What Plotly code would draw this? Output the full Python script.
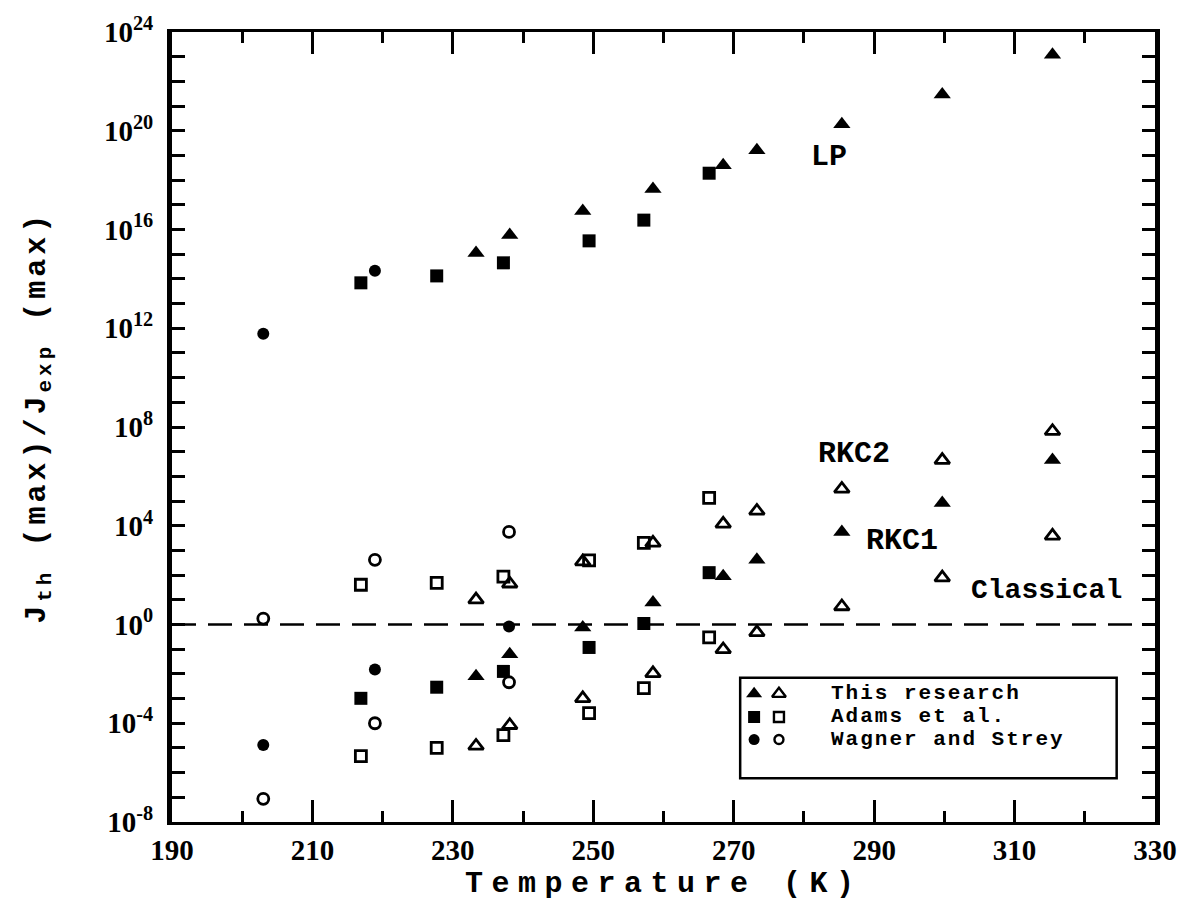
import plotly.graph_objects as go

# ---- data (exponents of 10) ----
T_this = [233.3, 238.1, 248.5, 258.5, 268.5, 273.3, 285.4, 299.7, 315.4]
this_LP = [15.05, 15.78, 16.75, 17.64, 18.60, 19.21, 20.26, 21.47, 23.08]
this_RKC2 = [1.01, 1.65, 2.55, 3.31, 4.08, 4.60, 5.49, 6.66, 7.83]
this_RKC1 = [-2.10, -1.21, -0.12, 0.89, 1.95, 2.62, 3.75, 4.92, 6.66]
this_CL = [-4.92, -4.08, -2.99, -1.98, -1.01, -0.32, 0.73, 1.90, 3.59]

T_adams = [216.9, 227.7, 237.2, 249.4, 257.2, 266.5]
adams_LP = [13.84, 14.12, 14.65, 15.54, 16.38, 18.28]
adams_RKC2 = [1.61, 1.69, 1.94, 2.60, 3.31, 5.13]
adams_RKC1 = [-2.99, -2.54, -1.90, -0.93, 0.04, 2.10]
adams_CL = [-5.33, -5.00, -4.48, -3.59, -2.58, -0.52]

T_wag = [203.0, 218.9, 238.0]
T_wag_LP = [203.0, 218.9]
wag_LP = [11.78, 14.33]
wag_RKC2 = [0.24, 2.62, 3.75]
wag_RKC1 = [-4.88, -1.82, -0.08]
wag_CL = [-7.06, -4.00, -2.34]

x_ticks = [190, 210, 230, 250, 270, 290, 310, 330]
y_label_exps = [-8, -4, 0, 4, 8, 12, 16, 20, 24]

legend_labels = ["This research", "Adams et al.", "Wagner and Strey"]

# curve labels (x in K, y as exponent of 10)
curve_labels = ["LP", "RKC2", "RKC1", "Classical"]
curve_label_x = [283.5, 287.1, 294.0, 314.5]
curve_label_y = [18.93, 6.9, 3.39, 1.37]

# ---- figure ----
SERIF = "Liberation Serif"
MONO = "Liberation Mono"

def p10(v):
    return [10.0 ** e for e in v]

fig = go.Figure()

# reference line J_th/J_exp = 1
fig.add_trace(go.Scatter(x=[x_ticks[0], x_ticks[-1]], y=[1.0, 1.0], mode="lines",
                         line=dict(color="black", width=2.5, dash="24px,12px"),
                         showlegend=False, hoverinfo="skip"))

def filled(x, y, sym, size):
    fig.add_trace(go.Scatter(x=x, y=p10(y), mode="markers", showlegend=False,
                             marker=dict(symbol=sym, size=size, color="black",
                                         line=dict(width=0))))

def hollow(x, y, sym, size):
    fig.add_trace(go.Scatter(x=x, y=p10(y), mode="markers", showlegend=False,
                             marker=dict(symbol=sym + "-open", size=size, color="black",
                                         line=dict(width=2.8, color="black"))))

filled(T_this, this_LP, "triangle-up", 15)
filled(T_this, this_RKC1, "triangle-up", 15)
hollow(T_this, this_RKC2, "triangle-up", 13)
hollow(T_this, this_CL, "triangle-up", 13)

filled(T_adams, adams_LP, "square", 13)
filled(T_adams, adams_RKC1, "square", 13)
hollow(T_adams, adams_RKC2, "square", 11)
hollow(T_adams, adams_CL, "square", 11)

filled(T_wag_LP, wag_LP, "circle", 12)
filled(T_wag, wag_RKC1, "circle", 12)
hollow(T_wag, wag_RKC2, "circle", 11)
hollow(T_wag, wag_CL, "circle", 11)

# ---- legend drawn on an overlay axis ----
leg_rows = [0.84, 0.61, 0.385]
leg_syms = ["triangle-up", "square", "circle"]
leg_sizes = [14, 12, 11]
for row, sym, sz in zip(leg_rows, leg_syms, leg_sizes):
    fig.add_trace(go.Scatter(x=[0.037], y=[row], xaxis="x2", yaxis="y2", mode="markers",
                             showlegend=False, hoverinfo="skip",
                             marker=dict(symbol=sym, size=sz, color="black")))
    fig.add_trace(go.Scatter(x=[0.103], y=[row], xaxis="x2", yaxis="y2", mode="markers",
                             showlegend=False, hoverinfo="skip",
                             marker=dict(symbol=sym + "-open", size=sz - 2, color="black",
                                         line=dict(width=2.4, color="black"))))

annotations = []
for row, lab in zip(leg_rows, legend_labels):
    annotations.append(dict(x=0.235, y=row, xref="x2", yref="y2",
                            text='<span style="letter-spacing:2px">%s</span>' % lab,
                            showarrow=False, xanchor="left", yanchor="middle",
                            font=dict(family=MONO, size=21, color="black", weight="bold")))

for txt, xv, yv in zip(curve_labels, curve_label_x, curve_label_y):
    size = 28 if txt == "Classical" else 30
    annotations.append(dict(x=xv, y=yv, xref="x", yref="y", text=txt, showarrow=False,
                            xanchor="center", yanchor="middle",
                            font=dict(family=MONO, size=size, color="black", weight="bold")))

# axis titles
annotations.append(dict(x=0.5, y=-0.079, xref="paper", yref="paper",
                        text='<span style="letter-spacing:8.5px">Temperature (K)</span>',
                        showarrow=False, xanchor="center", yanchor="middle",
                        font=dict(family=MONO, size=30, color="black", weight="bold")))
annotations.append(dict(x=-0.136, y=0.512, xref="paper", yref="paper", textangle=-90,
                        text='<span style="letter-spacing:4px">J<sub>th</sub> (max)/J<sub>exp</sub> (max)</span>',
                        showarrow=False, xanchor="center", yanchor="middle",
                        font=dict(family=MONO, size=30, color="black", weight="bold")))

y_tickvals = [10.0 ** e for e in y_label_exps]
y_ticktext = ["10<sup>%d</sup>" % e for e in y_label_exps]

fig.update_layout(
    width=1196, height=913,
    margin=dict(l=172, r=41, t=28, b=91),
    paper_bgcolor="white", plot_bgcolor="white",
    showlegend=False,
    annotations=annotations,
    xaxis=dict(range=[190, 330], tickvals=x_ticks, ticks="inside", ticklen=22, tickwidth=2.5,
               tickcolor="black", showline=True, linewidth=3, linecolor="black", mirror="ticks",
               showgrid=False, zeroline=False,
               minor=dict(dtick=10, tick0=190, ticks="inside", ticklen=11, tickwidth=2.5,
                          tickcolor="black", showgrid=False),
               tickfont=dict(family=SERIF, size=29, color="black", weight="bold")),
    yaxis=dict(type="log", range=[-8, 24], tickvals=y_tickvals, ticktext=y_ticktext,
               ticks="inside", ticklen=13, tickwidth=2.5, tickcolor="black",
               showline=True, linewidth=5, linecolor="black", mirror="ticks",
               showgrid=False, zeroline=False, ticklabelstandoff=8,
               minor=dict(dtick=1, tick0=0, ticks="inside", ticklen=13, tickwidth=2.5,
                          tickcolor="black", showgrid=False),
               tickfont=dict(family=SERIF, size=29, color="black", weight="bold")),
    xaxis2=dict(domain=[0.578, 0.961], range=[0, 1], anchor="y2", visible=False, fixedrange=True),
    yaxis2=dict(domain=[0.0554, 0.1826], range=[0, 1], anchor="x2", visible=False, fixedrange=True),
    shapes=[dict(type="rect", xref="paper", yref="paper", x0=0.578, x1=0.961, y0=0.0554, y1=0.1826,
                 line=dict(color="black", width=2.5), fillcolor="rgba(0,0,0,0)")],
)

fig.write_html("out.html")
